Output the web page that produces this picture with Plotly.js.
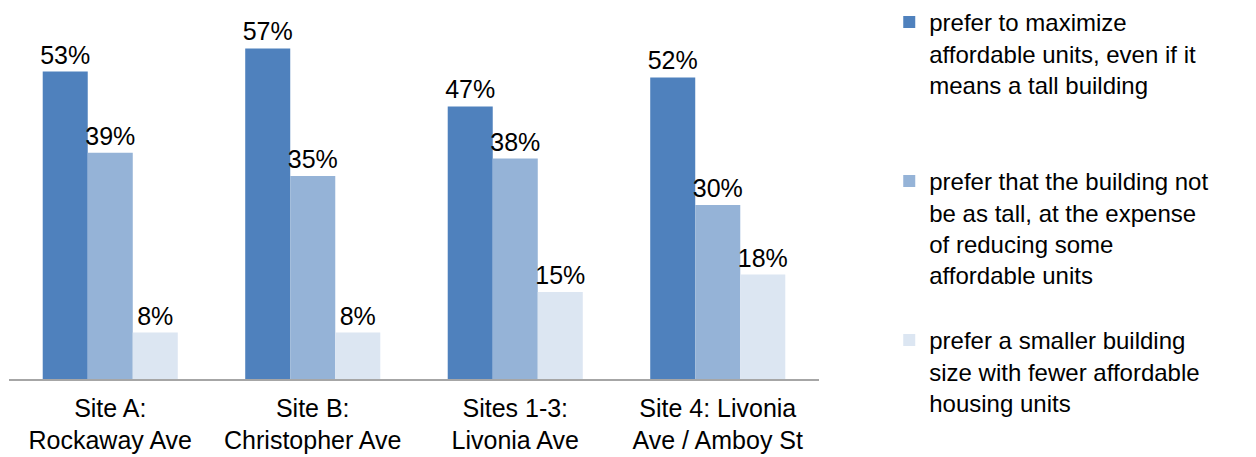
<!DOCTYPE html>
<html>
<head>
<meta charset="utf-8">
<script src="https://cdn.plot.ly/plotly-3.0.1.min.js"></script>
<style>html,body{margin:0;padding:0;background:#fff;}#chart{width:1256px;height:457px;}</style>
</head>
<body>
<div id="chart"></div>
<script>
const categories = ["Site A:<br>Rockaway Ave", "Site B:<br>Christopher Ave", "Sites 1-3:<br>Livonia Ave", "Site 4: Livonia<br>Ave / Amboy St"];
const seriesNames = [
  "prefer to maximize<br>affordable units, even if it<br>means a tall building<br> <br> ",
  "prefer that the building not<br>be as tall, at the expense<br>of reducing some<br>affordable units<br> ",
  "prefer a smaller building<br>size with fewer affordable<br>housing units"
];
const maximize = [53, 57, 47, 52];
const lessTall = [39, 35, 38, 30];
const smaller = [8, 8, 15, 18];
const colors = ["#4f81bd", "#95b3d7", "#dce6f2"];

const FONT = "Liberation Sans, Arial, sans-serif";
const series = [maximize, lessTall, smaller];
const traces = series.map((vals, i) => ({
  type: "bar",
  x: categories,
  y: vals,
  name: seriesNames[i],
  marker: {color: colors[i]},
  text: vals.map(v => v + "%"),
  textposition: "outside",
  constraintext: "none",
  cliponaxis: false,
  textfont: {family: FONT, size: 25, color: "#000"},
  hoverinfo: "x+y"
}));

const layout = {
  width: 1256, height: 457,
  margin: {l: 9, r: 437, t: 20, b: 78},
  paper_bgcolor: "#fff", plot_bgcolor: "#fff",
  font: {family: FONT, size: 25, color: "#000"},
  barmode: "group",
  bargap: 0.333,
  bargroupgap: 0,
  showlegend: true,
  legend: {
    xref: "container", yref: "container",
    x: 0.708, y: 1, xanchor: "left", yanchor: "top",
    valign: "top",
    maxheight: 457,
    font: {family: FONT, size: 24, color: "#000"},
    tracegroupgap: 0,
    bgcolor: "rgba(0,0,0,0)"
  },
  xaxis: {
    showline: true, linecolor: "#a6a6a6", linewidth: 1.5,
    ticks: "", showgrid: false, zeroline: false,
    ticklabelstandoff: 6,
    tickfont: {family: FONT, size: 25, color: "#000"}
  },
  yaxis: {
    range: [0, 61.9], visible: false, showgrid: false, zeroline: false
  }
};

Plotly.newPlot("chart", traces, layout, {displayModeBar: false, staticPlot: true});
</script>
</body>
</html>
